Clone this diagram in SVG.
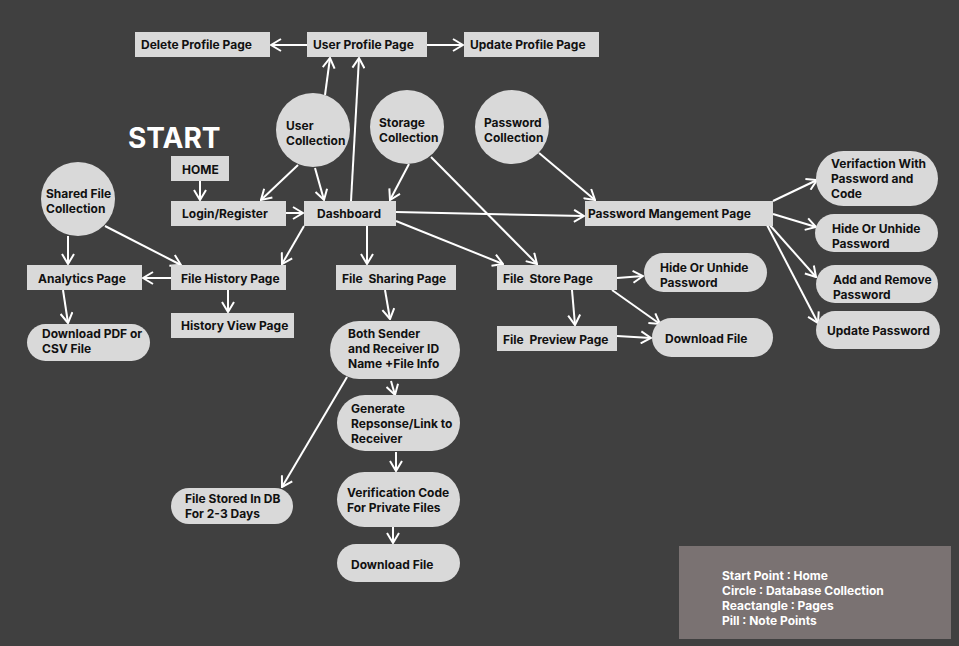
<svg xmlns="http://www.w3.org/2000/svg" width="959" height="646" viewBox="0 0 959 646">
<defs>
<marker id="ah" markerUnits="userSpaceOnUse" markerWidth="12" markerHeight="14" viewBox="0 0 12 14" refX="11" refY="7" orient="auto">
<path d="M1,1 L11,7 L1,13" fill="none" stroke="#ffffff" stroke-width="2"/>
</marker>
<style>
.n{fill:#d9d9d9;}
.t{font-family:Inter,"Liberation Sans",sans-serif;font-weight:700;font-size:12px;fill:#111111;white-space:pre;}
.w{font-family:Inter,"Liberation Sans",sans-serif;font-weight:700;font-size:12px;fill:#ffffff;}
.c line{stroke:#ffffff;stroke-width:2;marker-end:url(#ah);}
</style>
</defs>
<rect width="959" height="646" fill="#404040"/>
<text x="128" y="148" font-family="Inter,'Liberation Sans',sans-serif" font-weight="700" font-size="28" fill="#ffffff">START</text>

<g class="c" id="connectors">
<line x1="307" y1="45" x2="271" y2="45"/>
<line x1="427" y1="45" x2="463" y2="45"/>
<line x1="325" y1="95" x2="330" y2="58"/>
<line x1="351" y1="201" x2="359" y2="58"/>
<line x1="200" y1="181" x2="200" y2="200"/>
<line x1="298" y1="165" x2="261" y2="200"/>
<line x1="315" y1="168" x2="324" y2="200"/>
<line x1="286" y1="213" x2="303" y2="213"/>
<line x1="409" y1="164" x2="390" y2="200"/>
<line x1="431" y1="157" x2="537" y2="264"/>
<line x1="539" y1="153" x2="595" y2="200"/>
<line x1="396" y1="212" x2="584" y2="216"/>
<line x1="396" y1="221" x2="503" y2="264"/>
<line x1="367" y1="226" x2="367" y2="264"/>
<line x1="304" y1="226" x2="282" y2="264"/>
<line x1="105" y1="226" x2="181" y2="265"/>
<line x1="68" y1="236" x2="68" y2="264"/>
<line x1="171" y1="278" x2="143" y2="278"/>
<line x1="228" y1="290" x2="228" y2="312"/>
<line x1="63" y1="290" x2="68" y2="323"/>
<line x1="385" y1="290" x2="390" y2="319"/>
<line x1="391" y1="381" x2="395" y2="395"/>
<line x1="347" y1="377" x2="282" y2="487"/>
<line x1="396" y1="452" x2="396" y2="471"/>
<line x1="393" y1="527" x2="393" y2="543"/>
<line x1="617" y1="278" x2="643" y2="276"/>
<line x1="612" y1="290" x2="660" y2="324"/>
<line x1="572" y1="290" x2="575" y2="325"/>
<line x1="617" y1="336" x2="651" y2="338"/>
<line x1="773" y1="201" x2="817" y2="180"/>
<line x1="773" y1="214" x2="816" y2="227"/>
<line x1="768" y1="223" x2="816" y2="277"/>
<line x1="767" y1="225" x2="818" y2="323"/>
</g>

<g id="deleteProfile"><rect class="n" x="135" y="32" width="135" height="25"/><text class="t" x="141" y="49">Delete Profile Page</text></g>
<g id="userProfile"><rect class="n" x="307" y="32" width="120" height="25"/><text class="t" x="313" y="49">User Profile Page</text></g>
<g id="updateProfile"><rect class="n" x="464" y="32" width="135" height="25"/><text class="t" x="470" y="49">Update Profile Page</text></g>
<g id="home"><rect class="n" x="171" y="156" width="58" height="25"/><text class="t" x="182" y="174">HOME</text></g>
<g id="login"><rect class="n" x="171" y="201" width="115" height="25"/><text class="t" x="182" y="218">Login/Register</text></g>
<g id="dashboard"><rect class="n" x="304" y="201" width="92" height="25"/><text class="t" x="317" y="218">Dashboard</text></g>

<g id="userCollection"><circle class="n" cx="313" cy="130" r="37"/><text class="t" x="286" y="130">User</text><text class="t" x="286" y="145">Collection</text></g>
<g id="storageCollection"><circle class="n" cx="407" cy="127" r="37"/><text class="t" x="379" y="127">Storage</text><text class="t" x="379" y="142">Collection</text></g>
<g id="passwordCollection"><circle class="n" cx="512" cy="127" r="37"/><text class="t" x="484" y="127">Password</text><text class="t" x="484" y="142">Collection</text></g>
<g id="sharedFileCollection"><circle class="n" cx="78" cy="199" r="37"/><text class="t" x="46" y="198">Shared File</text><text class="t" x="46" y="213">Collection</text></g>

<g id="analytics"><rect class="n" x="27" y="265" width="115" height="25"/><text class="t" x="38" y="283">Analytics Page</text></g>
<g id="fileHistory"><rect class="n" x="171" y="265" width="115" height="25"/><text class="t" x="181" y="283">File History Page</text></g>
<g id="historyView"><rect class="n" x="171" y="313" width="123" height="25"/><text class="t" x="181" y="330">History View Page</text></g>
<g id="fileSharing"><rect class="n" x="336" y="265" width="120" height="25"/><text class="t" x="342" y="283">File  Sharing Page</text></g>
<g id="downloadPdf"><rect class="n" x="27" y="324" width="123" height="37" rx="18.5"/><text class="t" x="42" y="338">Download PDF or</text><text class="t" x="42" y="353">CSV File</text></g>

<g id="bothSender"><rect class="n" x="330" y="321" width="130" height="58" rx="29"/><text class="t" x="348" y="338">Both Sender</text><text class="t" x="348" y="353">and Receiver ID</text><text class="t" x="348" y="368">Name +File Info</text></g>
<g id="generate"><rect class="n" x="337" y="395" width="123" height="56" rx="28"/><text class="t" x="351" y="413">Generate</text><text class="t" x="351" y="428">Repsonse/Link to</text><text class="t" x="351" y="443">Receiver</text></g>
<g id="verificationCode"><rect class="n" x="337" y="472" width="123" height="55" rx="27.5"/><text class="t" x="347" y="497">Verification Code</text><text class="t" x="347" y="512">For Private Files</text></g>
<g id="downloadFile1"><rect class="n" x="337" y="544" width="123" height="38" rx="19"/><text class="t" x="351" y="569">Download File</text></g>
<g id="fileStored"><rect class="n" x="171" y="488" width="122" height="36" rx="18"/><text class="t" x="185" y="503">File Stored In DB</text><text class="t" x="185" y="518">For 2-3 Days</text></g>

<g id="passwordMgmt"><rect class="n" x="585" y="201" width="188" height="25"/><text class="t" x="588" y="218">Password Mangement Page</text></g>
<g id="verifaction"><rect class="n" x="816" y="151" width="122" height="55" rx="27.5"/><text class="t" x="831" y="168">Verifaction With</text><text class="t" x="831" y="183">Password and</text><text class="t" x="831" y="198">Code</text></g>
<g id="hideUnhide2"><rect class="n" x="815" y="214" width="123" height="38" rx="19"/><text class="t" x="832" y="233">Hide Or Unhide</text><text class="t" x="832" y="248">Password</text></g>
<g id="addRemove"><rect class="n" x="816" y="265" width="122" height="38" rx="19"/><text class="t" x="833" y="284">Add and Remove</text><text class="t" x="833" y="299">Password</text></g>
<g id="updatePassword"><rect class="n" x="816" y="311" width="124" height="38" rx="19"/><text class="t" x="827" y="335">Update Password</text></g>

<g id="fileStore"><rect class="n" x="497" y="265" width="120" height="25"/><text class="t" x="503" y="283">File  Store Page</text></g>
<g id="hideUnhide1"><rect class="n" x="644" y="253" width="123" height="39" rx="19.5"/><text class="t" x="660" y="272">Hide Or Unhide</text><text class="t" x="660" y="287">Password</text></g>
<g id="filePreview"><rect class="n" x="497" y="326" width="120" height="25"/><text class="t" x="503" y="344">File  Preview Page</text></g>
<g id="downloadFile2"><rect class="n" x="652" y="318" width="121" height="39" rx="19.5"/><text class="t" x="665" y="343">Download File</text></g>

<g id="legend"><rect x="679" y="546" width="272" height="93" fill="#7a7272"/>
<text class="w" x="722" y="580">Start Point : Home</text>
<text class="w" x="722" y="595">Circle : Database Collection</text>
<text class="w" x="722" y="610">Reactangle : Pages</text>
<text class="w" x="722" y="625">Pill : Note Points</text>
</g>
</svg>
